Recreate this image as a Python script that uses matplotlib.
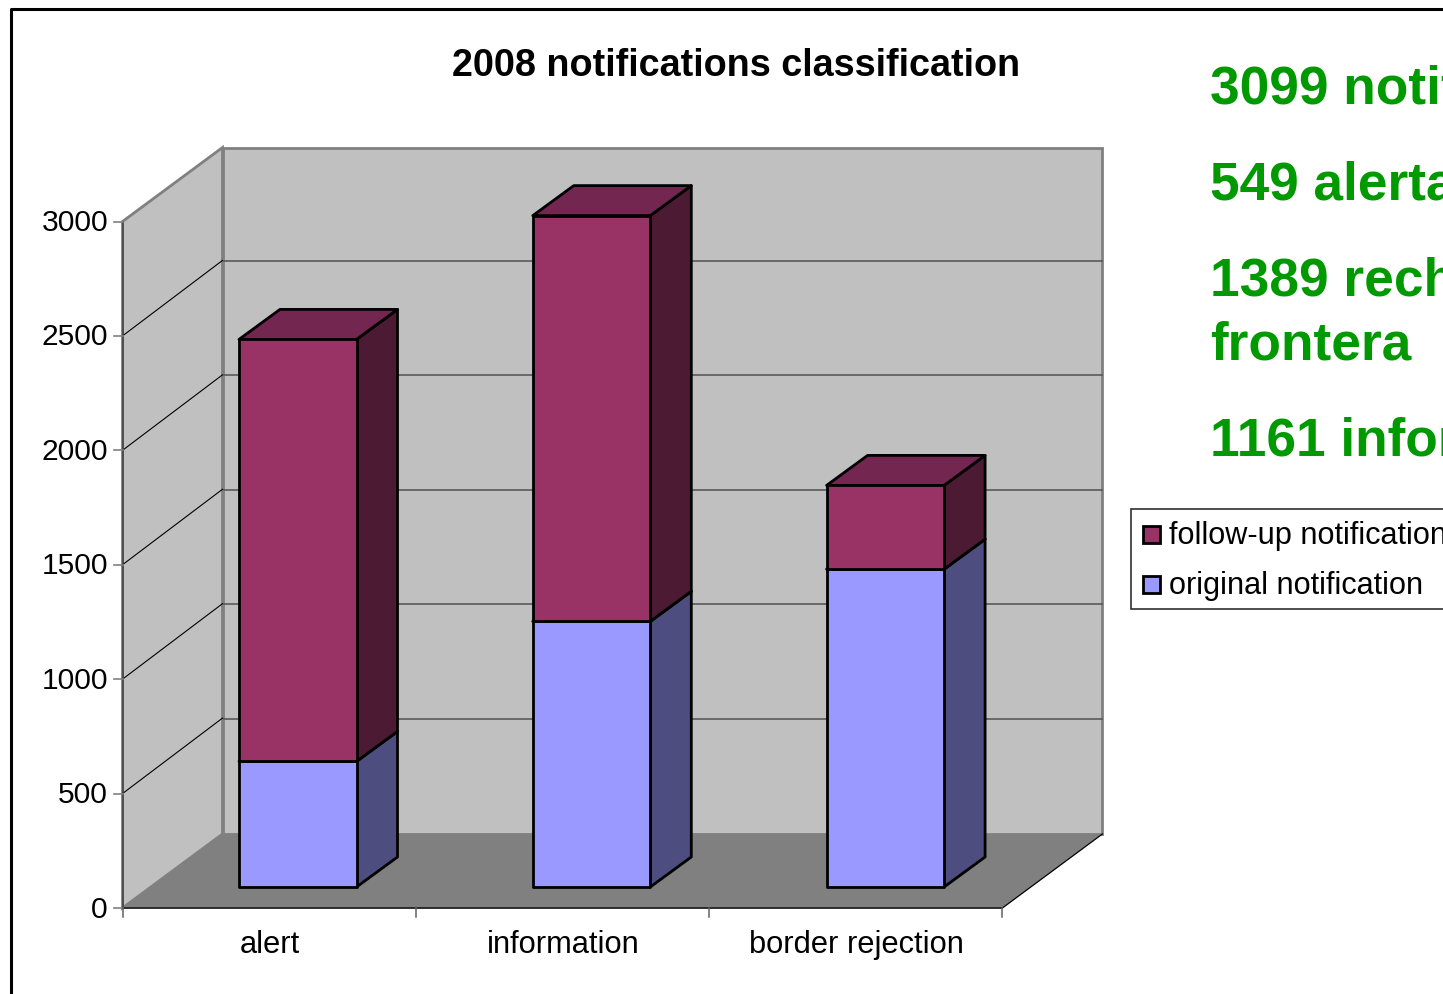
import matplotlib
matplotlib.use("Agg")
import matplotlib.pyplot as plt
from matplotlib.patches import Polygon, Rectangle

categories = ["alert", "information", "border rejection"]
original = [549, 1161, 1389]
follow_up = [1844, 1773, 366]
y_ticks = [0, 500, 1000, 1500, 2000, 2500, 3000]
title = "2008 notifications classification"
side_notes = ["3099 notificaciones", "549 alertas", "1389 rechazos en", "frontera", "1161 informaciones"]
legend_labels = ["follow-up notification", "original notification"]

plt.rcParams["font.family"] = ["Liberation Sans", "DejaVu Sans"]
fig = plt.figure(figsize=(14.43, 9.94), dpi=100)
ax = fig.add_axes([0, 0, 1, 1])
ax.set_xlim(0, 1443)
ax.set_ylim(994, 0)
ax.axis("off")

X0, Y0, SCALE = 122.5, 908, 686.5 / 3000
DX, DY = 100, -74
CAT_W = 293.3


def vy(v):
    return Y0 - v * SCALE


# outer frame
ax.plot([10.5, 10.5, 1443], [994, 9, 9], color="black", lw=2.2, zorder=1)

top = max(y_ticks)
X1 = X0 + CAT_W * len(categories)
# walls and floor
ax.add_patch(Polygon([(X0 + DX, vy(top) + DY), (X1 + DX, vy(top) + DY), (X1 + DX, Y0 + DY), (X0 + DX, Y0 + DY)],
                     fc="#c0c0c0", ec="#808080", lw=2, zorder=2))
ax.add_patch(Polygon([(X0, vy(top)), (X0 + DX, vy(top) + DY), (X0 + DX, Y0 + DY), (X0, Y0)],
                     fc="#c0c0c0", ec="#808080", lw=2, zorder=2))
ax.add_patch(Polygon([(X0, Y0), (X1, Y0), (X1 + DX, Y0 + DY), (X0 + DX, Y0 + DY)],
                     fc="#808080", ec="none", zorder=3))
ax.plot([X1, X1 + DX], [Y0, Y0 + DY], color="black", lw=0.9, zorder=3)
# grid
for t in y_ticks[1:-1]:
    ax.plot([X0, X0 + DX], [vy(t), vy(t) + DY - 1.5], color="black", lw=0.8, zorder=3)
    ax.plot([X0 + DX + 1, X1 + DX], [vy(t) + DY - 1, vy(t) + DY - 1], color="#505050", lw=1.1, zorder=3)

# axes lines and tick labels
ax.plot([X0, X0], [vy(top), Y0], color="#404040", lw=1.1, zorder=4)
ax.plot([X0, X1], [Y0, Y0], color="#202020", lw=1.3, zorder=4)
for t in y_ticks:
    ax.plot([X0 - 9, X0], [vy(t), vy(t)], color="#808080", lw=1.2, zorder=4)
    ax.text(X0 - 14.5, vy(t) + 1.5, str(t), ha="right", va="center", fontsize=21.6, zorder=6)
for i in range(len(categories) + 1):
    ax.plot([X0 + i * CAT_W] * 2, [Y0, Y0 + 9], color="#606060", lw=1.1, zorder=4)
for i, c in enumerate(categories):
    ax.text(X0 + (i + 0.5) * CAT_W + 1, 945, c, ha="center", va="center", fontsize=22.2, zorder=6)

# bars
BAR_OFF, BAR_W = 116.5, 117.5
BDX, BDY = 41, -30
BASE = 887


def box(x, b, h, colors, z):
    y_b = BASE - b * SCALE
    y_t = BASE - (b + h) * SCALE
    edge = dict(ec="black", lw=2, joinstyle="round", zorder=z)
    ax.add_patch(Polygon([(x + BAR_W, y_t), (x + BAR_W + BDX, y_t + BDY), (x + BAR_W + BDX, y_b + BDY), (x + BAR_W, y_b)],
                         fc=colors[1], **edge))
    ax.add_patch(Polygon([(x, y_t), (x + BDX, y_t + BDY), (x + BAR_W + BDX, y_t + BDY), (x + BAR_W, y_t)],
                         fc=colors[2], **edge))
    ax.add_patch(Rectangle((x, y_t), BAR_W, y_b - y_t, fc=colors[0], **edge))


for i in range(len(categories)):
    x = X0 + BAR_OFF + i * (CAT_W + 0.5)
    box(x, 0, original[i], ("#9999ff", "#4d4d80", "#7a7acc"), 5)
    box(x, original[i], follow_up[i], ("#993366", "#4d1a33", "#732650"), 5)

ax.text(736, 66, title, ha="center", va="center", fontsize=27.15, fontweight="bold", zorder=6)

# side notes
for y, s in zip([90, 186, 282, 346, 442], side_notes):
    ax.text(1210, y, s, ha="left", va="center", fontsize=38.3, fontweight="bold", color="#009900", zorder=6)

# legend
ax.add_patch(Rectangle((1131, 509), 400, 100, fc="white", ec="#303030", lw=1.2, zorder=5))
for y, s, col in zip([534, 584], legend_labels, ["#993366", "#9999ff"]):
    ax.add_patch(Rectangle((1143, y - 8.5), 17, 17, fc=col, ec="black", lw=2, zorder=6))
    ax.text(1169, y + 2, s, ha="left", va="center", fontsize=22.1, zorder=6)

fig.savefig("out.png", dpi=100)
